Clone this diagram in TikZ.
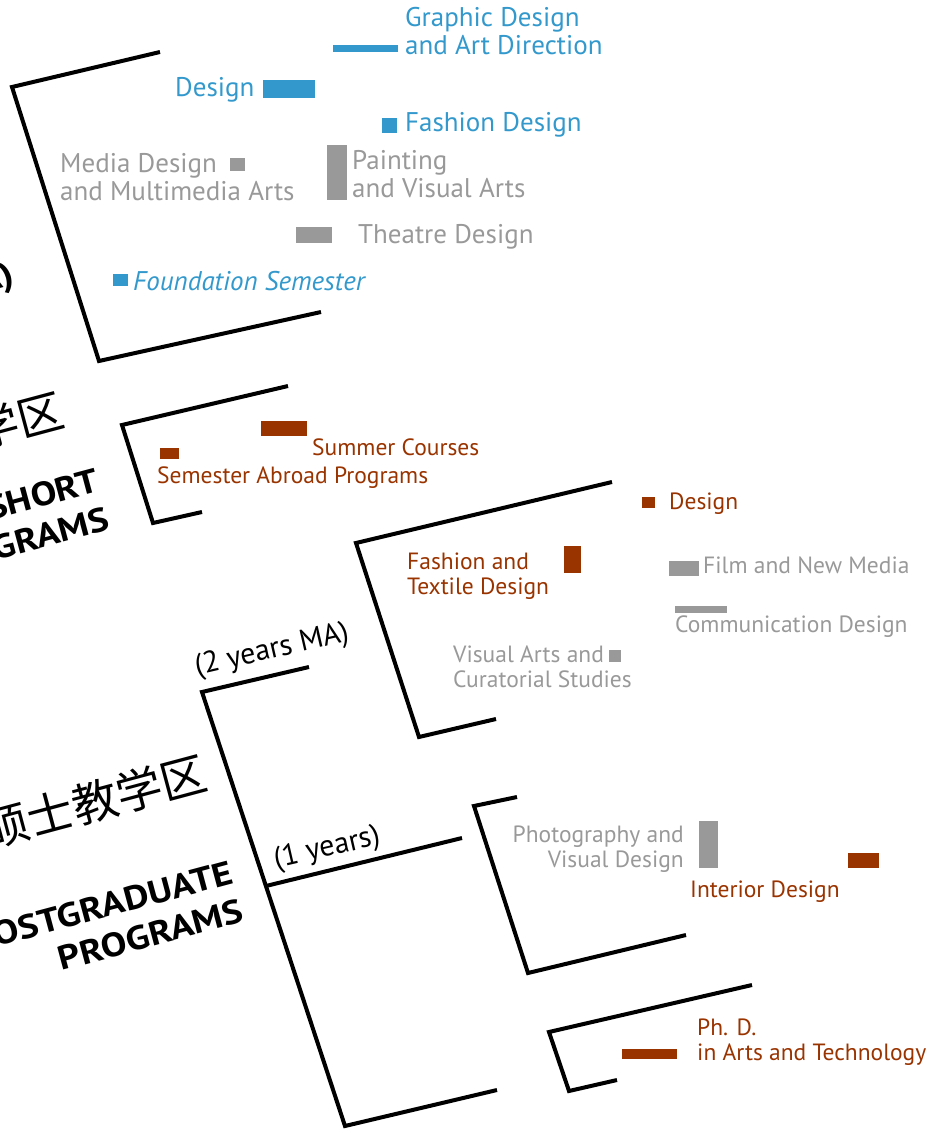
\documentclass[tikz,border=0pt]{standalone}
\usepackage{fontspec}
\setmainfont{PT Sans}
\newfontfamily\sectfont[FakeStretch=1.15]{PT Sans}
\newfontfamily\cjk{Noto Sans CJK SC}
\usetikzlibrary{positioning, calc}

\definecolor{progblue}{HTML}{3399CC}
\definecolor{progbrown}{HTML}{993300}
\definecolor{proggray}{HTML}{999999}

\tikzset{
    bracket/.style={line width=4pt, draw=black},
    biglbl/.style={inner sep=0pt, align=left, font=\fontsize{27}{28}\selectfont},
    smalllbl/.style={inner sep=0pt, align=left, font=\fontsize{23.5}{25}\selectfont},
    yearlbl/.style={inner sep=0pt, rotate=13, font=\fontsize{30}{30}\selectfont},
    sectlbl/.style={inner sep=0pt, align=right, rotate=15, font=\sectfont\bfseries\fontsize{33.5}{40}\selectfont},
    cnlbl/.style={inner sep=0pt, rotate=15, font=\cjk\fontsize{46}{46}\selectfont},
}

\begin{document}
\begin{tikzpicture}[x=1pt, y=-1pt]
    \useasboundingbox (0,0) rectangle (941,1132);
    \clip (0,0) rectangle (941,1132);

    % undergraduate
    \coordinate (ug-a) at (160,52);
    \coordinate (ug-b) at (12,87);
    \coordinate (ug-c) at (99,361);
    \coordinate (ug-d) at (321,312);
    \draw[bracket] (ug-a) -- (ug-b) -- (ug-c) -- (ug-d);
    \node[sectlbl, anchor=east] (ug-en) at (14,276) {(4 years BA)};

    \fill[progblue] (333,45) rectangle (398,52);
    \fill[progblue] (263,80) rectangle (315,98);
    \fill[progblue] (382,118) rectangle (397,133);
    \fill[progblue] (113,274) rectangle (128,286);
    \fill[proggray] (230,158) rectangle (245,171);
    \fill[proggray] (327,145) rectangle (347,200);
    \fill[proggray] (296,227) rectangle (332,243);

    \node[biglbl, text=progblue, anchor=base west] (gd) at (405,55) {Graphic Design\\and Art Direction};
    \node[biglbl, text=progblue, anchor=base west] (ds) at (175,96) {Design};
    \node[biglbl, text=progblue, anchor=base west] (fd) at (405,131) {Fashion Design};
    \node[biglbl, text=proggray, anchor=base west] (md) at (60,200) {Media Design\\and Multimedia Arts};
    \node[biglbl, text=proggray, anchor=base west] (pv) at (352,197) {Painting\\and Visual Arts};
    \node[biglbl, text=proggray, anchor=base west] (td) at (358,243) {Theatre Design};
    \node[biglbl, text=progblue, anchor=base west, font=\itshape\fontsize{27}{28}\selectfont] (fs) at (133,290) {Foundation Semester};

    % short programs
    \coordinate (sp-a) at (288,386);
    \coordinate (sp-b) at (122,425);
    \coordinate (sp-c) at (153,523);
    \coordinate (sp-d) at (202,512);
    \draw[bracket] (sp-a) -- (sp-b) -- (sp-c) -- (sp-d);
    \node[cnlbl, anchor=east] (sp-cn) at (63,409) {短期教学区};
    \node[sectlbl, anchor=east] (sp-en) at (103,499) {SHORT\\PROGRAMS};

    \fill[progbrown] (261,421) rectangle (307,436);
    \fill[progbrown] (160,448) rectangle (179,459);
    \node[smalllbl, text=progbrown, anchor=base west] (sc) at (312,455) {Summer Courses};
    \node[smalllbl, text=progbrown, anchor=base west] (sa) at (157,483) {Semester Abroad Programs};

    % postgraduate
    \coordinate (pg-a) at (309,667);
    \coordinate (pg-b) at (202,692);
    \coordinate (pg-c) at (345,1126);
    \coordinate (pg-d) at (497,1090);
    \coordinate (pg-m) at ($(pg-b)!0.447!(pg-c)$);
    \coordinate (pg-e) at (462,838);
    \draw[bracket] (pg-a) -- (pg-b) -- (pg-c) -- (pg-d);
    \draw[bracket] (pg-m) -- (pg-e);
    \node[cnlbl, anchor=east] (pg-cn) at (206,772) {硕士教学区};
    \node[sectlbl, anchor=east] (pg-en) at (237,891) {POSTGRADUATE\\PROGRAMS};
    \node[yearlbl] (ma-lbl) at (272,651) {(2 years MA)};
    \node[yearlbl] (one-lbl) at (327,849) {(1 years)};

    % 2 years MA
    \coordinate (ma-a) at (612,482);
    \coordinate (ma-b) at (356,543);
    \coordinate (ma-c) at (419,737);
    \coordinate (ma-d) at (496,719);
    \draw[bracket] (ma-a) -- (ma-b) -- (ma-c) -- (ma-d);

    \fill[progbrown] (642,497) rectangle (655,508);
    \fill[progbrown] (564,546) rectangle (581,573);
    \fill[proggray] (669,561) rectangle (699,576);
    \fill[proggray] (675,606) rectangle (727,613);
    \fill[proggray] (609,650) rectangle (621,662);
    \node[smalllbl, text=progbrown, anchor=base west] (mds) at (669,509) {Design};
    \node[smalllbl, text=progbrown, anchor=base west] (ft) at (407,594) {Fashion and\\Textile Design};
    \node[smalllbl, text=proggray, anchor=base west] (fm) at (703,573) {Film and New Media};
    \node[smalllbl, text=proggray, anchor=base west] (cd) at (675,632) {Communication Design};
    \node[smalllbl, text=proggray, anchor=base west] (va) at (453,687) {Visual Arts and\\Curatorial Studies};

    % 1 year
    \coordinate (oy-a) at (517,797);
    \coordinate (oy-b) at (474,806);
    \coordinate (oy-c) at (528,973);
    \coordinate (oy-d) at (686,935);
    \draw[bracket] (oy-a) -- (oy-b) -- (oy-c) -- (oy-d);

    \fill[proggray] (699,821) rectangle (718,868);
    \fill[progbrown] (848,853) rectangle (879,868);
    \node[smalllbl, text=proggray, align=right, anchor=base east] (ph) at (684,867) {Photography and\\Visual Design};
    \node[smalllbl, text=progbrown, anchor=base west] (id) at (690,897) {Interior Design};

    % phd
    \coordinate (pd-a) at (752,985);
    \coordinate (pd-b) at (549,1032);
    \coordinate (pd-c) at (569,1091);
    \coordinate (pd-d) at (617,1080);
    \draw[bracket] (pd-a) -- (pd-b) -- (pd-c) -- (pd-d);

    \fill[progbrown] (622,1049) rectangle (677,1059);
    \node[smalllbl, text=progbrown, anchor=base west] (pd) at (697,1060) {Ph. D.\\in Arts and Technology};
\end{tikzpicture}
\end{document}
